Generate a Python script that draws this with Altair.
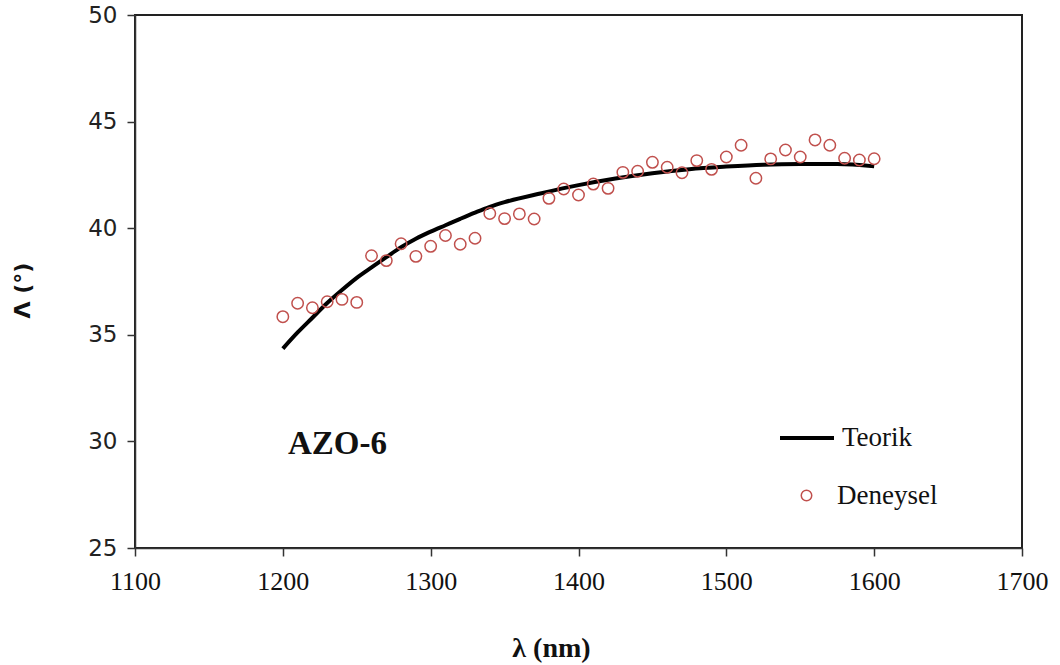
import altair as alt
import pandas as pd

# Theoretical curve (Teorik)
lam_t = [1200, 1210, 1220, 1230, 1240, 1250, 1260, 1270, 1280, 1290, 1300, 1310, 1320,
         1330, 1340, 1350, 1375, 1400, 1425, 1450, 1475, 1500, 1525, 1550, 1575, 1600]
delta_t = [34.35, 35.11, 35.80, 36.49, 37.10, 37.67, 38.16, 38.64, 39.11, 39.51, 39.84, 40.14, 40.44,
           40.73, 41.00, 41.22, 41.64, 42.02, 42.33, 42.58, 42.77, 42.89, 42.98, 43.01, 43.01, 42.90]

# Experimental points (Deneysel)
lam_e = [1200, 1210, 1220, 1230, 1240, 1250, 1260, 1270, 1280, 1290, 1300, 1310, 1320, 1330,
         1340, 1350, 1360, 1370, 1380, 1390, 1400, 1410, 1420, 1430, 1440, 1450, 1460, 1470,
         1480, 1490, 1500, 1510, 1520, 1530, 1540, 1550, 1560, 1570, 1580, 1590, 1600]
delta_e = [35.85, 36.48, 36.27, 36.55, 36.66, 36.52, 38.71, 38.48, 39.27, 38.68, 39.15, 39.66, 39.25, 39.53,
           40.69, 40.45, 40.67, 40.43, 41.40, 41.84, 41.56, 42.07, 41.87, 42.62, 42.67, 43.09, 42.86, 42.60,
           43.17, 42.76, 43.34, 43.89, 42.34, 43.25, 43.67, 43.34, 44.14, 43.89, 43.28, 43.20, 43.26]

x_ticks = [1100, 1200, 1300, 1400, 1500, 1600, 1700]
y_ticks = [25, 30, 35, 40, 45, 50]

df_t = pd.DataFrame({"lam": lam_t, "delta": delta_t, "seri": "Teorik"})
df_e = pd.DataFrame({"lam": lam_e, "delta": delta_e, "seri": "Deneysel"})
df_lbl = pd.DataFrame({"lam": [1237], "delta": [29.9], "txt": ["AZO-6"]})

RED = "#C0504D"

x_enc = alt.X(
    "lam:Q",
    scale=alt.Scale(domain=[1100, 1700], nice=False, zero=False),
    axis=alt.Axis(
        values=x_ticks, title="λ (nm)", grid=False, format="d", labelFlush=False,
        labelFont="Liberation Serif", labelFontSize=26, labelColor="#111",
        labelPadding=12, tickSize=8, tickColor="#333", tickWidth=1.5,
        domainColor="#333", domainWidth=1.5,
        titleFont="Liberation Serif", titleFontSize=28, titleFontWeight="bold",
        titleColor="#111", titleX=416, titleY=108, titleBaseline="alphabetic",
        titleAlign="center",
    ),
)
y_enc = alt.Y(
    "delta:Q",
    scale=alt.Scale(domain=[25, 50], nice=False, zero=False),
    axis=alt.Axis(
        values=y_ticks, title="Λ (°)", grid=False, labelFlush=False,
        labelFont="DejaVu Sans", labelFontSize=23, labelColor="#222",
        labelPadding=10, tickSize=8, tickColor="#333", tickWidth=1.5,
        domainColor="#333", domainWidth=1.5,
        titleFont="DejaVu Sans", titleFontSize=22, titleFontWeight="bold",
        titleColor="#111", titleAngle=270, titleX=-113, titleY=275,
        titleAlign="center", titleBaseline="middle",
    ),
)

line = alt.Chart(df_t).mark_line(strokeWidth=4, interpolate="monotone").encode(
    x=x_enc,
    y=y_enc,
    color=alt.Color(
        "seri:N",
        scale=alt.Scale(domain=["Teorik"], range=["black"]),
        legend=alt.Legend(
            title=None, orient="none", legendX=643, legendY=394, padding=0,
            symbolType="stroke", symbolSize=2916, symbolStrokeWidth=4,
            labelFont="Liberation Serif", labelFontSize=27, labelColor="#111",
            labelOffset=6,
        ),
    ),
)

points = alt.Chart(df_e).mark_point(
    filled=False, color=RED, size=130, strokeWidth=1.5, opacity=1
).encode(
    x="lam:Q",
    y="delta:Q",
    shape=alt.Shape(
        "seri:N",
        scale=alt.Scale(domain=["Deneysel"], range=["circle"]),
        legend=alt.Legend(
            title=None, orient="none", legendX=658, legendY=467, padding=0,
            symbolSize=110, symbolStrokeColor=RED, symbolFillColor="transparent",
            symbolStrokeWidth=1.5,
            labelFont="Liberation Serif", labelFontSize=27, labelColor="#111",
            labelOffset=17,
        ),
    ),
)

label = alt.Chart(df_lbl).mark_text(
    font="Liberation Serif", fontSize=33, fontWeight="bold", color="#111",
    align="center", baseline="middle",
).encode(x="lam:Q", y="delta:Q", text="txt:N")

chart = (
    alt.layer(line, points, label)
    .resolve_scale(color="independent", shape="independent")
    .properties(
        width=887,
        height=533,
        autosize=alt.AutoSizeParams(type="none"),
        padding={"left": 135, "top": 15, "right": 38, "bottom": 117},
        background="white",
    )
    .configure_view(stroke="#222", strokeWidth=2)
)

chart.save("out.html", embed_options={"renderer": "svg", "actions": False})
